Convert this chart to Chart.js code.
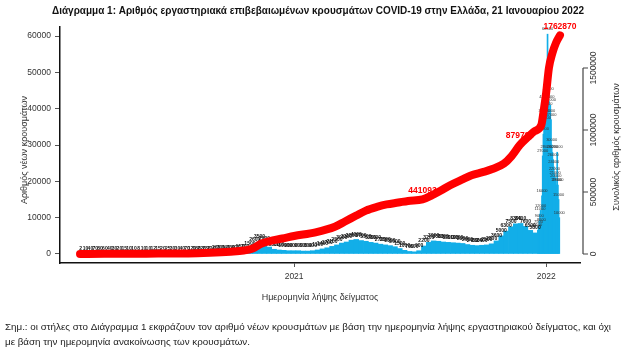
<!DOCTYPE html>
<html>
<head>
<meta charset="utf-8">
<script src="https://cdn.jsdelivr.net/npm/chart.js@4.4.0/dist/chart.umd.min.js"></script>
<style>
html, body { margin: 0; padding: 0; background: #fff; }
#wrap { width: 637px; height: 351px; }
</style>
</head>
<body>
<div id="wrap"><canvas id="ChartForCases" width="637" height="351"></canvas></div>
<script>
// new cases per week (average per day), weeks starting on Monday
var weeklyStart = '2020-02-24';
var weeklyCases = [
    2, 10, 40, 70, 80, 60, 40, 30, 20, 15, 10, 10, 8, 10, 10, 12, 15, 20, 25, 30,
    30, 40, 70, 120, 180, 220, 230, 220, 260, 300, 340, 330, 400, 550, 700, 1500, 2600, 3500, 2900, 1900,
    1300, 1100, 1000, 900, 900,
    900, 800, 800, 900, 1100, 1400, 1700, 2100, 2500, 3000, 3300, 3800, 4000, 3700, 3500, 3200, 3000, 2700, 2500, 2300,
    2000, 1500, 1000, 700, 600, 900, 2200, 3200, 3600, 3500, 3300, 3200, 3100, 3000, 2900, 2600, 2400, 2300, 2400, 2500,
    2800, 3600, 5000, 6300, 7500, 8300, 8400, 7600, 6500, 5800
];

// daily new cases for the omicron wave
var dailyStart = '2021-12-20';
var dailyCases = [
    6500, 7500, 9000, 11000, 12000, 8000, 16000, 27000, 33000, 38000, 42000, 36000,
    28000, 40000, 60500, 44000, 42000, 38000, 41000, 37000, 30000, 28000, 26000, 24000,
    22000, 21000, 20000, 19000, 28000, 19000, 15000, 10000
];

// cumulative cases
var cumDates = ['2020-02-26', '2020-04-01', '2020-06-01', '2020-08-01', '2020-09-01', '2020-10-01', '2020-10-20',
    '2020-11-01', '2020-11-15', '2020-12-01', '2020-12-15', '2021-01-01', '2021-02-01', '2021-03-01', '2021-03-15',
    '2021-04-01', '2021-04-15', '2021-05-01', '2021-05-15', '2021-06-01', '2021-06-15', '2021-07-06', '2021-07-20',
    '2021-08-01', '2021-08-15', '2021-09-01', '2021-09-15', '2021-10-01', '2021-10-15', '2021-11-01', '2021-11-12',
    '2021-11-24', '2021-12-05', '2021-12-15', '2021-12-25', '2021-12-28', '2022-01-01', '2022-01-05', '2022-01-10',
    '2022-01-15', '2022-01-21'];
var cumCases = [0, 1400, 3000, 4500, 10000, 19000, 28000,
    42000, 85000, 110000, 125000, 145000, 175000, 220000, 260000,
    310000, 350000, 380000, 400000, 415000, 428000, 441093, 475000,
    510000, 555000, 600000, 635000, 660000, 685000, 730000, 790000,
    879793, 940000, 990000, 1040000, 1140000, 1300000, 1500000, 1620000,
    1700000, 1762870];
var cumLabelled = [441093, 879793, 1762870];

var xTickYears = ['2021', '2022'];
var leftTicks = [0, 10000, 20000, 30000, 40000, 50000, 60000];
var rightTicks = [0, 500000, 1000000, 1500000];

var titleText = 'Διάγραμμα 1: Αριθμός εργαστηριακά επιβεβαιωμένων κρουσμάτων COVID-19 στην Ελλάδα, 21 Ιανουαρίου 2022';
var noteLines = ['Σημ.: οι στήλες στο Διάγραμμα 1 εκφράζουν τον αριθμό νέων κρουσμάτων με βάση την ημερομηνία λήψης εργαστηριακού δείγματος, και όχι',
    'με βάση την ημερομηνία ανακοίνωσης των κρουσμάτων.'];

function dayNum(s) {
    var p = s.split('-');
    return Math.round((Date.UTC(+p[0], +p[1] - 1, +p[2]) - Date.UTC(2020, 0, 1)) / 86400000);
}

var w0 = dayNum(weeklyStart);
var weeklyPoints = weeklyCases.map(function (v, i) { return { x: w0 + i * 7 + 3, y: v }; });
var d0 = dayNum(dailyStart);
var dailyPoints = dailyCases.map(function (v, i) { return { x: d0 + i, y: v }; });
var cumPoints = cumDates.map(function (s, i) { return { x: dayNum(s), y: cumCases[i] }; });

var FONT = '"Liberation Sans", Arial, sans-serif';

var extras = {
    id: 'extras',
    beforeDraw: function (chart) {
        var c = chart.ctx;
        c.save();
        c.fillStyle = '#fff';
        c.fillRect(0, 0, chart.width, chart.height);
        c.restore();
    },
    afterDatasetDraw: function (chart, args) {
        var meta = args.meta;
        if (meta.type !== 'bar') return;
        var c = chart.ctx;
        var ds = chart.data.datasets[args.index];
        var daily = args.index === 2;
        c.save();
        c.font = (daily ? '4px ' : 'bold 5px ') + FONT;
        c.fillStyle = daily ? '#333' : '#111';
        c.textAlign = 'center';
        c.textBaseline = 'middle';
        meta.data.forEach(function (el, i) {
            c.fillText(String(ds.data[i].y), el.x, el.y - 5);
        });
        c.restore();
    },
    afterDraw: function (chart) {
        var c = chart.ctx;
        var area = chart.chartArea;
        var y1 = chart.scales.y1;
        c.save();

        // title
        c.fillStyle = '#111';
        c.font = 'bold 11px ' + FONT;
        c.textAlign = 'center';
        c.textBaseline = 'middle';
        c.fillText(titleText, 318, 11, 532);

        // left axis title
        c.font = '9px ' + FONT;
        c.fillStyle = '#333';
        c.save();
        c.translate(25, 150);
        c.rotate(-Math.PI / 2);
        c.fillText('Αριθμός νέων κρουσμάτων', 0, 0);
        c.restore();

        // x axis title
        c.fillText('Ημερομηνία λήψης δείγματος', (area.left + area.right) / 2, 298);

        // right axis
        var rx = area.right + 3;
        c.strokeStyle = '#444';
        c.lineWidth = 1.2;
        c.beginPath();
        c.moveTo(rx, y1.getPixelForValue(rightTicks[0]));
        c.lineTo(rx, y1.getPixelForValue(rightTicks[rightTicks.length - 1]));
        rightTicks.forEach(function (t) {
            var py = y1.getPixelForValue(t);
            c.moveTo(rx, py);
            c.lineTo(rx + 5, py);
        });
        c.stroke();
        c.font = '8.5px ' + FONT;
        rightTicks.forEach(function (t) {
            var py = y1.getPixelForValue(t);
            c.save();
            c.translate(rx + 11, py);
            c.rotate(-Math.PI / 2);
            c.fillText(String(t), 0, 0);
            c.restore();
        });
        c.font = '9px ' + FONT;
        c.save();
        c.translate(617, 147);
        c.rotate(-Math.PI / 2);
        c.fillText('Συνολικός αριθμός κρουσμάτων', 0, 0);
        c.restore();

        // labels on the cumulative line
        var lineMeta = chart.getDatasetMeta(0);
        c.font = 'bold 8.5px ' + FONT;
        c.fillStyle = '#ff0000';
        cumCases.forEach(function (v, i) {
            if (cumLabelled.indexOf(v) < 0) return;
            var el = lineMeta.data[i];
            c.fillText(String(v), el.x, el.y - 9);
        });

        // note
        c.font = '9.8px ' + FONT;
        c.fillStyle = '#222';
        c.textAlign = 'left';
        c.fillText(noteLines[0], 5, 327, 616);
        c.fillText(noteLines[1], 5, 342);
        c.restore();
    }
};

var ctx = document.getElementById('ChartForCases').getContext('2d');

var ChartForCases = new Chart(ctx, {
    type: 'bar',
    data: {
        datasets: [{
            type: 'line',
            label: 'Συνολικός αριθμός κρουσμάτων',
            data: cumPoints,
            yAxisID: 'y1',
            borderColor: '#ff0000',
            borderWidth: 8,
            borderCapStyle: 'round',
            borderJoinStyle: 'round',
            pointRadius: 0,
            cubicInterpolationMode: 'monotone',
            order: 0
        }, {
            label: 'Νέα κρούσματα (εβδομάδα)',
            data: weeklyPoints,
            yAxisID: 'y',
            backgroundColor: '#12aee8',
            barThickness: 4.9,
            grouped: false,
            order: 1
        }, {
            label: 'Νέα κρούσματα (ημέρα)',
            data: dailyPoints,
            yAxisID: 'y',
            backgroundColor: '#12aee8',
            barThickness: 1,
            grouped: false,
            order: 2
        }]
    },
    options: {
        responsive: false,
        animation: false,
        devicePixelRatio: 1,
        layout: { padding: { top: 27, right: 57, left: 0, bottom: 0 } },
        plugins: {
            legend: { display: false },
            tooltip: { enabled: false }
        },
        scales: {
            x: {
                type: 'linear',
                offset: false,
                min: 27,
                max: 780,
                afterFit: function (s) { s.height = 88; },
                afterBuildTicks: function (s) {
                    s.ticks = xTickYears.map(function (y) { return { value: dayNum(y + '-01-01') }; });
                },
                ticks: {
                    autoSkip: false,
                    maxRotation: 0,
                    padding: 5,
                    color: '#333',
                    font: { family: FONT, size: 8.5 },
                    callback: function (v) { return String(new Date(Date.UTC(2020, 0, 1) + v * 86400000).getUTCFullYear()); }
                },
                grid: { drawOnChartArea: false, drawTicks: true, tickLength: 4, color: '#555', offset: false },
                border: { display: true, color: '#111', width: 1.5 }
            },
            y: {
                position: 'left',
                min: -2480,
                max: 62480,
                afterFit: function (s) { s.width = 60; },
                afterBuildTicks: function (s) {
                    s.ticks = leftTicks.map(function (v) { return { value: v }; });
                },
                ticks: {
                    padding: 4,
                    color: '#333',
                    font: { family: FONT, size: 8.5 },
                    callback: function (v) { return String(v); }
                },
                grid: { drawOnChartArea: false, drawTicks: true, tickLength: 5, color: '#555' },
                border: { display: true, color: '#111', width: 1.5 }
            },
            y1: {
                display: false,
                position: 'right',
                min: -72580,
                max: 1830645
            }
        }
    },
    plugins: [extras]
});
</script>
</body>
</html>
